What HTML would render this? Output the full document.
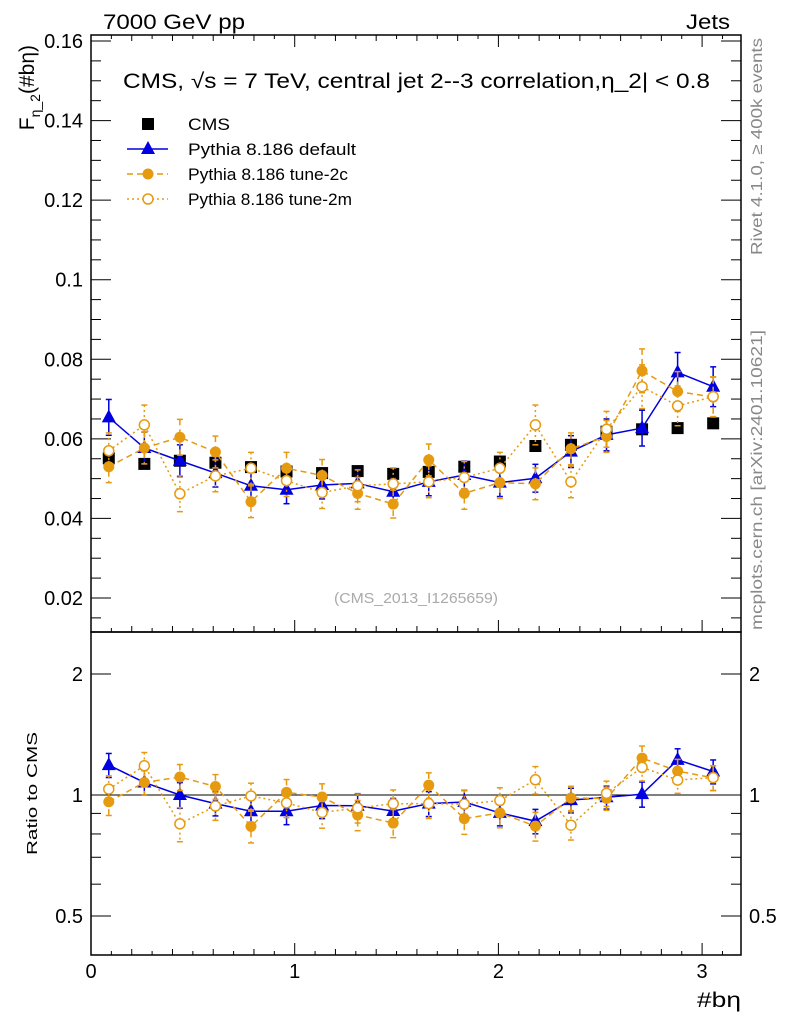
<!DOCTYPE html>
<html><head><meta charset="utf-8"><style>
body{margin:0;background:#fff;}
svg text{font-family:"Liberation Sans",sans-serif;}
</style></head><body>
<svg id="c" width="786" height="1024" xmlns="http://www.w3.org/2000/svg">
<text x="103" y="29" font-size="21" textLength="142" lengthAdjust="spacingAndGlyphs">7000 GeV pp</text>
<text x="686" y="29" font-size="21" textLength="44" lengthAdjust="spacingAndGlyphs">Jets</text>
<text x="123" y="88" font-size="21" textLength="587" lengthAdjust="spacingAndGlyphs">CMS, √s = 7 TeV, central jet 2--3 correlation,η_2| &lt; 0.8</text>
<text transform="translate(762,255) rotate(-90)" font-size="16" fill="#888" textLength="217" lengthAdjust="spacingAndGlyphs">Rivet 4.1.0, ≥ 400k events</text>
<text transform="translate(762,630) rotate(-90)" font-size="16" fill="#888" textLength="300" lengthAdjust="spacingAndGlyphs">mcplots.cern.ch [arXiv:2401.10621]</text>
<text transform="translate(34,45) rotate(-90)" font-size="21" text-anchor="end">F<tspan font-size="14" dy="6">η_2</tspan><tspan dy="-6">(#bη)</tspan></text>
<text transform="translate(37,855) rotate(-90)" font-size="15" textLength="123" lengthAdjust="spacingAndGlyphs">Ratio to CMS</text>
<text x="697" y="1007" font-size="21" textLength="44" lengthAdjust="spacingAndGlyphs">#bη</text>
<text x="334" y="603" font-size="15" fill="#aaa" textLength="164" lengthAdjust="spacingAndGlyphs">(CMS_2013_I1265659)</text>
<g id="g"></g>
</svg>
<script>
const cms=[0.0551,0.0537,0.0545,0.0540,0.0529,0.0518,0.0514,0.0519,0.0512,0.0517,0.0530,0.0543,0.0582,0.0585,0.0618,0.0624,0.0627,0.0639];
const def=[0.0654,0.0577,0.0545,0.0514,0.0482,0.0472,0.0484,0.0488,0.0467,0.0492,0.0509,0.0490,0.0501,0.0568,0.0610,0.0627,0.0767,0.0731];
const defErr=[0.0045,0.004,0.004,0.0035,0.0035,0.0035,0.0035,0.0035,0.0035,0.0035,0.0035,0.0035,0.0035,0.004,0.004,0.0045,0.005,0.005];
const t2c=[0.0530,0.0577,0.0604,0.0567,0.0442,0.0526,0.0508,0.0463,0.0436,0.0547,0.0463,0.0490,0.0487,0.0575,0.0606,0.0771,0.0719,0.0705];
const t2cErr=[0.004,0.004,0.0045,0.004,0.004,0.004,0.004,0.004,0.0035,0.004,0.004,0.004,0.004,0.004,0.004,0.0055,0.005,0.005];
const t2m=[0.0570,0.0635,0.0462,0.0507,0.0526,0.0495,0.0465,0.0482,0.0487,0.0492,0.0503,0.0526,0.0635,0.0492,0.0624,0.0731,0.0683,0.0706];
const t2mErr=[0.0045,0.005,0.0045,0.004,0.004,0.004,0.004,0.004,0.004,0.004,0.004,0.004,0.005,0.004,0.0045,0.0055,0.005,0.005];
const yTicks=[0.02,0.04,0.06,0.08,0.1,0.12,0.14,0.16];
const yTickLabels=["0.02","0.04","0.06","0.08","0.1","0.12","0.14","0.16"];
const xTicks=[0,1,2,3];
const rTicks=[0.5,1,2];
const rTickLabels=["0.5","1","2"];
const NS="http://www.w3.org/2000/svg";
const g=document.getElementById('g');
const L=91,R=741,T=35,MB=632,RB=955;
const xs=v=>L+v*203.7;
const ys=v=>41+(0.16-v)/0.02*79.57;
const rs=v=>795-Math.log2(v)*121;
function el(t,a,p){const e=document.createElementNS(NS,t);for(const k in a)e.setAttribute(k,a[k]);(p||g).appendChild(e);return e;}
const bw=Math.PI/18;
const xc=cms.map((_,i)=>(i+0.5)*bw);
let f1=el('rect',{x:L,y:T,width:R-L,height:MB-T,fill:'none',stroke:'#000','stroke-width':1.5});


let f2=el('rect',{x:L,y:MB,width:R-L,height:RB-MB,fill:'none',stroke:'#000','stroke-width':1.5});


for(let v=0.015;v<=0.1601;v+=0.005){const y=ys(v);if(y<T||y>MB)continue;const maj=Math.abs(v/0.02-Math.round(v/0.02))<1e-6;const len=maj?20:10;
el('line',{x1:L,x2:L+len,y1:y,y2:y,stroke:'#000'});el('line',{x1:R,x2:R-len,y1:y,y2:y,stroke:'#000'});}
yTicks.forEach((v,i)=>{const t=el('text',{x:L-8,y:ys(v)+7,'font-size':20,'text-anchor':'end'});t.textContent=yTickLabels[i];

});
for(let k=0;k<=32;k++){const v=k/10;const x=xs(v);if(x>R)continue;const len=k%10==0?12:(k%2==0?6:4);
[MB,RB].forEach(b=>el('line',{x1:x,x2:x,y1:b,y2:b-len,stroke:'#000'}));el('line',{x1:x,x2:x,y1:T,y2:T+len,stroke:'#000'});}
xTicks.forEach(v=>{const t=el('text',{x:xs(v),y:978,'font-size':20,'text-anchor':'middle'});t.textContent=v;

});
[0.4,0.5,0.6,0.7,0.8,0.9,1,2].forEach(v=>{const y=rs(v);const maj=rTicks.includes(v);const len=maj?20:10;
el('line',{x1:L,x2:L+len,y1:y,y2:y,stroke:'#000'});el('line',{x1:R,x2:R-len,y1:y,y2:y,stroke:'#000'});});
rTicks.forEach((v,i)=>{[[L-8,'end'],[R+8,'start']].forEach(([x,a])=>{const t=el('text',{x:x,y:rs(v)+7,'font-size':20,'text-anchor':a});t.textContent=rTickLabels[i];

});});
el('line',{x1:L,x2:R,y1:rs(1),y2:rs(1),stroke:'#000'});
const series=[
{n:'pythia-default',v:def,e:defErr,c:'#0000e0',dash:'',mk:'tri'},
{n:'pythia-tune-2c',v:t2c,e:t2cErr,c:'#e69a10',dash:'6,4',mk:'dot'},
{n:'pythia-tune-2m',v:t2m,e:t2mErr,c:'#e69a10',dash:'2,3',mk:'circ'}];
function marker(par,mk,x,y,c){
 if(mk=='tri')el('polygon',{points:`${x},${y-8} ${x-7},${y+5} ${x+7},${y+5}`,fill:c},par);
 else if(mk=='dot')el('circle',{cx:x,cy:y,r:5.5,fill:c},par);
 else if(mk=='circ')el('circle',{cx:x,cy:y,r:5,fill:'#fff',stroke:c,'stroke-width':1.5},par);
 else el('rect',{x:x-6,y:y-6,width:12,height:12,fill:'#000'},par);
}
const cg=el('g',{});


cms.forEach((v,i)=>marker(cg,'sq',xs(xc[i]),ys(v)));
series.forEach(s=>{
 [[ys,s.v,s.e,'main'],[rs,s.v.map((v,i)=>v/cms[i]),s.e.map((e,i)=>e/cms[i]),'ratio']].forEach(([sc,vals,errs,pn])=>{
  const sg=el('g',{});
  
  
  el('polyline',{points:vals.map((v,i)=>xs(xc[i])+','+sc(v)).join(' '),fill:'none',stroke:s.c,'stroke-width':1.5,'stroke-dasharray':s.dash},sg);
  vals.forEach((v,i)=>{const x=xs(xc[i]);const y1=sc(v+errs[i]),y2=sc(Math.max(v-errs[i],0.01));
   el('line',{x1:x,x2:x,y1:y1,y2:y2,stroke:s.c,'stroke-width':1.5,'stroke-dasharray':s.dash},sg);
   el('line',{x1:x-3,x2:x+3,y1:y1,y2:y1,stroke:s.c,'stroke-width':1.5},sg);
   el('line',{x1:x-3,x2:x+3,y1:y2,y2:y2,stroke:s.c,'stroke-width':1.5},sg);
   marker(sg,s.mk,x,sc(v),s.c);});
 });
});
const leg=[['CMS','sq','#000','',42],['Pythia 8.186 default','tri','#0000e0','',168],['Pythia 8.186 tune-2c','dot','#e69a10','6,4',160],['Pythia 8.186 tune-2m','circ','#e69a10','2,3',164]];
leg.forEach((l,i)=>{const y=124+i*25;const lg=el('g',{});
 
 
 if(i>0)el('line',{x1:127,x2:168,y1:y,y2:y,stroke:l[2],'stroke-width':1.5,'stroke-dasharray':l[3]},lg);
 marker(lg,l[1],148,y,l[2]);
 const t=el('text',{x:188,y:y+6,'font-size':17,textLength:l[4],lengthAdjust:'spacingAndGlyphs'},lg);t.textContent=l[0];});
</script>
</body></html>
